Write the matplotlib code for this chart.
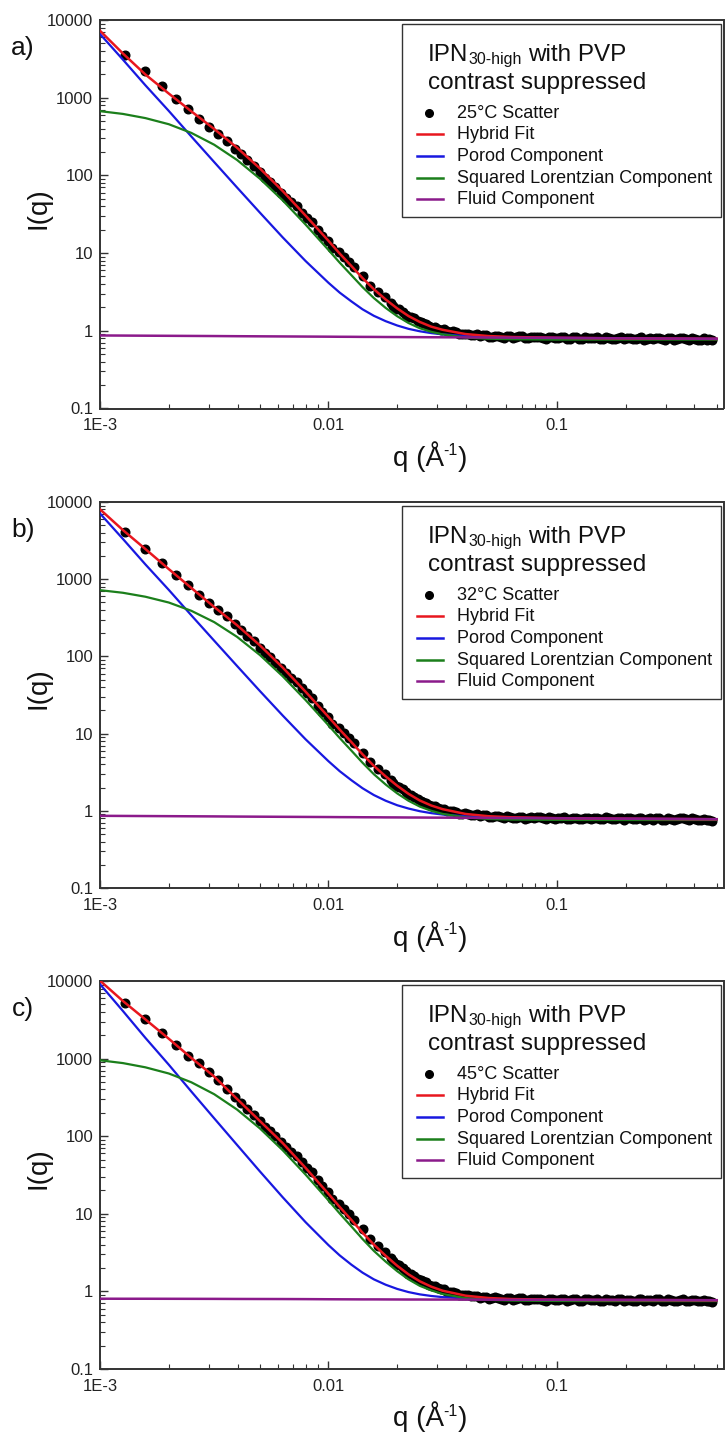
import matplotlib
matplotlib.use("Agg")
import matplotlib.pyplot as plt
from matplotlib.patches import Rectangle
from matplotlib.lines import Line2D
from matplotlib.ticker import FixedLocator, FixedFormatter, LogLocator, NullFormatter

plt.rcParams['font.family'] = ['Liberation Sans', 'DejaVu Sans']

W, H = 725, 1433

# ---------------- data ----------------
# q grid of the fitted model curves (1/Angstrom)
q_fit = [0.001, 0.00126, 0.00158, 0.002, 0.00251, 0.00316, 0.00398, 0.00501, 0.00631, 0.00794,
         0.01, 0.0112, 0.0126, 0.0141, 0.0158, 0.0178, 0.02, 0.0224, 0.0251, 0.0282,
         0.0316, 0.0398, 0.0501, 0.0631, 0.1, 0.158, 0.251, 0.398, 0.5]

# measured q values (shared by the three temperatures)
q_data = [0.00129, 0.00158, 0.00186, 0.00215, 0.00243, 0.00272, 0.00300, 0.00329, 0.00358, 0.00389,
          0.00416, 0.00442, 0.00471, 0.00500, 0.00529, 0.00557, 0.00585, 0.00617, 0.00654, 0.00687,
          0.00730, 0.00768, 0.00804, 0.00849, 0.00898, 0.00939, 0.00993, 0.0104, 0.0111, 0.0117,
          0.0123, 0.0130, 0.0141, 0.0152, 0.0164, 0.0176,
          0.0187, 0.0198, 0.0211, 0.0224, 0.0238, 0.0253, 0.0268, 0.0285, 0.0303, 0.0321,
          0.0341, 0.0363, 0.0385, 0.0409, 0.0434, 0.0461, 0.0490, 0.0520, 0.0553, 0.0587,
          0.0623, 0.0662, 0.0703, 0.0747, 0.0793, 0.0842, 0.0895, 0.0950, 0.1009, 0.1072,
          0.1138, 0.1209, 0.1284, 0.1364, 0.1448, 0.1538, 0.1634, 0.1735, 0.1843, 0.1957,
          0.2079, 0.2208, 0.2345, 0.2490, 0.2645, 0.2809, 0.2983, 0.3168, 0.3365, 0.3574,
          0.3796, 0.4031, 0.4281, 0.4547, 0.4750]
# second detector frame, interleaved with the high-q part
q_data2 = [0.01924, 0.02044, 0.02174, 0.02309, 0.02454, 0.02604, 0.02764, 0.02939, 0.03119, 0.03308,
           0.03518, 0.03738, 0.03968, 0.04213, 0.04473, 0.04753, 0.05048, 0.05363, 0.05697, 0.06047,
           0.06422, 0.06822, 0.07247, 0.07697, 0.08172, 0.08681, 0.09221, 0.09790, 0.1040, 0.1105,
           0.1173, 0.1246, 0.1323, 0.1405, 0.1492, 0.1585, 0.1684, 0.1788, 0.1899, 0.2017,
           0.2143, 0.2276, 0.2416, 0.2566, 0.2726, 0.2895, 0.3074, 0.3265, 0.3468, 0.3683,
           0.3912, 0.4154, 0.4412, 0.4647]

# 25 C
I_25 = [3558, 2174, 1396, 971, 716, 538, 421, 338, 279, 220,
        186, 157, 132, 110, 93.4, 82.1, 70.8, 60.0, 51.8, 45.5,
        40.4, 33.3, 28.7, 25.2, 19.9, 16.7, 14.4, 11.8, 10.2, 8.81,
        7.60, 6.56, 5.03, 3.81, 3.13, 2.70,
        2.30, 1.93, 1.76, 1.50, 1.45, 1.28, 1.22, 1.10, 1.07, 1.05,
        0.968, 0.965, 0.897, 0.920, 0.889, 0.858, 0.887, 0.843, 0.853, 0.814,
        0.851, 0.822, 0.852, 0.809, 0.822, 0.836, 0.793, 0.824, 0.805, 0.836,
        0.794, 0.825, 0.784, 0.814, 0.805, 0.788, 0.827, 0.793, 0.816, 0.775,
        0.806, 0.781, 0.820, 0.795, 0.778, 0.809, 0.768, 0.799, 0.782, 0.813,
        0.772, 0.795, 0.762, 0.769, 0.753]
I2_25 = [2.08, 1.89, 1.61, 1.51, 1.34, 1.26, 1.14, 1.13, 1.03, 0.984,
         0.990, 0.912, 0.922, 0.886, 0.900, 0.877, 0.830, 0.865, 0.825, 0.861,
         0.815, 0.845, 0.801, 0.831, 0.837, 0.811, 0.842, 0.798, 0.820, 0.787,
         0.825, 0.784, 0.823, 0.797, 0.820, 0.779, 0.810, 0.784, 0.823, 0.806,
         0.781, 0.812, 0.771, 0.802, 0.817, 0.776, 0.807, 0.766, 0.805, 0.780,
         0.803, 0.762, 0.801, 0.776]
hybrid_25 = [7271, 3705, 1990, 1131, 668, 396, 227, 123, 62.8, 30.4,
             14.4, 9.86, 6.82, 4.77, 3.43, 2.53, 1.94, 1.55, 1.30, 1.13,
             1.03, 0.908, 0.856, 0.832, 0.813, 0.803, 0.797, 0.791, 0.788]
porod_25 = [6601, 3088, 1445, 676, 317, 148.6, 69.9, 33.2, 15.9, 7.91,
            4.15, 3.10, 2.39, 1.89, 1.56, 1.33, 1.17, 1.06, 0.986, 0.934,
            0.899, 0.857, 0.835, 0.824, 0.812, 0.803, 0.797, 0.791, 0.788]
lorentz_25 = [671.1, 618.3, 546.4, 455.8, 352.4, 248.3, 158.0, 90.7, 47.6, 23.3,
              10.98, 7.53, 5.20, 3.65, 2.64, 1.97, 1.54, 1.26, 1.08, 0.97,
              0.90, 0.82, 0.79, 0.78, 0.77, 0.77, 0.77, 0.77, 0.77]
fluid_25 = [0.871, 0.868, 0.865, 0.862, 0.859, 0.856, 0.852, 0.849, 0.846, 0.843,
            0.840, 0.838, 0.837, 0.835, 0.834, 0.832, 0.831, 0.829, 0.828, 0.826,
            0.825, 0.822, 0.819, 0.816, 0.810, 0.803, 0.797, 0.791, 0.788]

# 32 C
I_32 = [4120, 2460, 1607, 1133, 841, 631, 496, 396, 329, 260,
        219, 185, 156, 129, 110, 96.8, 82.8, 70.3, 60.8, 53.0,
        47.2, 38.9, 33.2, 29.2, 23.0, 19.1, 16.4, 13.5, 11.7, 10.05,
        8.66, 7.45, 5.68, 4.27, 3.47, 2.97,
        2.52, 2.11, 1.90, 1.61, 1.53, 1.35, 1.28, 1.14, 1.09, 1.07,
        0.980, 0.974, 0.901, 0.921, 0.887, 0.854, 0.881, 0.839, 0.848, 0.807,
        0.840, 0.812, 0.842, 0.799, 0.812, 0.826, 0.784, 0.814, 0.795, 0.826,
        0.785, 0.816, 0.775, 0.806, 0.797, 0.780, 0.819, 0.786, 0.809, 0.768,
        0.799, 0.774, 0.813, 0.788, 0.771, 0.802, 0.761, 0.792, 0.775, 0.805,
        0.765, 0.788, 0.756, 0.762, 0.746]
I2_32 = [2.29, 2.05, 1.73, 1.60, 1.41, 1.31, 1.18, 1.15, 1.05, 1.00,
         1.00, 0.918, 0.925, 0.886, 0.897, 0.872, 0.825, 0.860, 0.819, 0.853,
         0.806, 0.834, 0.792, 0.821, 0.827, 0.801, 0.831, 0.788, 0.811, 0.777,
         0.817, 0.776, 0.814, 0.790, 0.812, 0.772, 0.802, 0.778, 0.816, 0.799,
         0.775, 0.805, 0.765, 0.795, 0.810, 0.770, 0.800, 0.760, 0.798, 0.774,
         0.796, 0.756, 0.794, 0.770]
hybrid_32 = [8040, 4325, 2460, 1352, 771, 437, 253.6, 139.0, 71.53, 34.88,
             16.45, 11.27, 7.76, 5.39, 3.82, 2.79, 2.11, 1.66, 1.36, 1.17,
             1.05, 0.910, 0.851, 0.824, 0.803, 0.793, 0.787, 0.781, 0.778]
porod_32 = [7101, 3322, 1555, 727.5, 340.8, 159.9, 75.19, 35.62, 17.11, 8.44,
            4.39, 3.26, 2.49, 1.96, 1.60, 1.35, 1.18, 1.07, 0.988, 0.932,
            0.894, 0.849, 0.826, 0.814, 0.802, 0.793, 0.787, 0.781, 0.778]
lorentz_32 = [721.0, 666.9, 592.9, 498.8, 389.7, 278.2, 179.2, 104.2, 55.18, 27.20,
              12.82, 8.77, 6.02, 4.19, 2.98, 2.19, 1.68, 1.35, 1.135, 1.00,
              0.912, 0.821, 0.785, 0.770, 0.762, 0.76, 0.76, 0.76, 0.76]
fluid_32 = [0.861, 0.858, 0.855, 0.852, 0.849, 0.846, 0.842, 0.839, 0.836, 0.833,
            0.830, 0.828, 0.827, 0.825, 0.824, 0.822, 0.821, 0.819, 0.818, 0.816,
            0.815, 0.812, 0.809, 0.806, 0.800, 0.793, 0.787, 0.781, 0.778]

# 45 C
I_45 = [5250, 3208, 2156, 1497, 1091, 871, 679, 531, 411, 321,
        271, 226, 190, 157, 133, 117, 99.7, 84.4, 72.7, 63.2,
        56.0, 46.1, 39.3, 34.3, 27.0, 22.6, 19.2, 15.7, 13.5, 11.5,
        9.83, 8.42, 6.38, 4.75, 3.84, 3.26,
        2.72, 2.25, 2.01, 1.69, 1.60, 1.39, 1.31, 1.16, 1.10, 1.07,
        0.975, 0.963, 0.889, 0.904, 0.869, 0.834, 0.859, 0.816, 0.824, 0.785,
        0.818, 0.790, 0.819, 0.776, 0.790, 0.804, 0.762, 0.792, 0.774, 0.804,
        0.764, 0.796, 0.756, 0.787, 0.778, 0.762, 0.800, 0.769, 0.792, 0.753,
        0.783, 0.760, 0.797, 0.774, 0.758, 0.788, 0.749, 0.780, 0.763, 0.794,
        0.755, 0.778, 0.746, 0.754, 0.737]
I2_45 = [2.46, 2.18, 1.82, 1.67, 1.46, 1.35, 1.21, 1.17, 1.06, 0.997,
         0.993, 0.906, 0.910, 0.868, 0.877, 0.850, 0.804, 0.836, 0.796, 0.829,
         0.784, 0.812, 0.769, 0.799, 0.805, 0.779, 0.809, 0.767, 0.789, 0.757,
         0.796, 0.756, 0.795, 0.771, 0.794, 0.754, 0.785, 0.761, 0.799, 0.783,
         0.760, 0.790, 0.751, 0.781, 0.796, 0.757, 0.787, 0.748, 0.786, 0.763,
         0.785, 0.746, 0.784, 0.761]
hybrid_45 = [10100, 5520, 3200, 1803, 1020, 588, 302, 157, 81.35, 39.05,
             18.09, 12.26, 8.33, 5.72, 4.01, 2.88, 2.14, 1.66, 1.35, 1.15,
             1.02, 0.881, 0.822, 0.797, 0.781, 0.776, 0.774, 0.771, 0.770]
porod_45 = [9101, 4103, 1850, 834.5, 376.6, 170.2, 77.2, 35.2, 16.3, 7.80,
            3.95, 2.91, 2.21, 1.744, 1.430, 1.219, 1.076, 0.980, 0.916, 0.873,
            0.844, 0.811, 0.794, 0.785, 0.780, 0.776, 0.774, 0.771, 0.770]
lorentz_45 = [950.9, 875.0, 772.0, 642.8, 495.3, 347.9, 220.5, 126.1, 65.80, 32.00,
              14.89, 10.10, 6.87, 4.73, 3.33, 2.42, 1.82, 1.43, 1.18, 1.03,
              0.925, 0.820, 0.778, 0.761, 0.752, 0.75, 0.75, 0.75, 0.75]
fluid_45 = [0.805, 0.804, 0.804, 0.803, 0.802, 0.801, 0.799, 0.798, 0.797, 0.795,
            0.792, 0.791, 0.790, 0.789, 0.789, 0.788, 0.787, 0.786, 0.786, 0.785,
            0.785, 0.784, 0.782, 0.780, 0.779, 0.776, 0.774, 0.771, 0.770]

panel_tags = ['a)', 'b)', 'c)']
temperatures = ['25°C', '32°C', '45°C']
series_names = ['Hybrid Fit', 'Porod Component', 'Squared Lorentzian Component', 'Fluid Component']
x_ticks = [1e-3, 1e-2, 1e-1]
x_ticklabels = ['1E-3', '0.01', '0.1']
y_ticks = [0.1, 1, 10, 100, 1000, 10000]
y_ticklabels = ['0.1', '1', '10', '100', '1000', '10000']

scatter_sets = [(I_25, I2_25), (I_32, I2_32), (I_45, I2_45)]
fit_sets = [(hybrid_25, porod_25, lorentz_25, fluid_25),
            (hybrid_32, porod_32, lorentz_32, fluid_32),
            (hybrid_45, porod_45, lorentz_45, fluid_45)]

# ---------------- styling ----------------
RED, BLUE, GREEN, PURPLE = '#e8161e', '#1818e0', '#1b7f1b', '#8b1a8b'
line_colors = [RED, BLUE, GREEN, PURPLE]
SPINE = '#333333'

# axes frames in pixels: left, top, right, bottom
frames = [(100, 20, 723.5, 408.5), (100, 502, 723.5, 888), (100, 981, 723.5, 1369)]

fig = plt.figure(figsize=(W / 100, H / 100), dpi=100)
fig.patch.set_facecolor('white')
renderer = fig.canvas.get_renderer()


def fpos(x, y):
    return x / W, 1 - y / H


def put(x, y, s, size, **kw):
    fx, fy = fpos(x, y)
    return fig.text(fx, fy, s, fontsize=size, **kw)


def width_px(t):
    return t.get_window_extent(renderer).width


for k, (l, t, r, b) in enumerate(frames):
    ax = fig.add_axes([l / W, 1 - b / H, (r - l) / W, (b - t) / H])
    ax.set_xscale('log')
    ax.set_yscale('log')

    hyb, por, lor, flu = fit_sets[k]
    I_main, I_second = scatter_sets[k]
    ax.plot(q_data, I_main, 'o', ms=6.2, color='black', mec='black', zorder=2)
    ax.plot(q_data2, I_second, 'o', ms=6.2, color='black', mec='black', zorder=2)
    ax.plot(q_fit, por, color=BLUE, lw=1.6, zorder=3)
    ax.plot(q_fit, lor, color=GREEN, lw=1.6, zorder=3)
    ax.plot(q_fit, hyb, color=RED, lw=1.8, zorder=4)
    ax.plot(q_fit, flu, color=PURPLE, lw=1.8, zorder=5)

    ax.set_xlim(1e-3, 0.536)
    ax.set_ylim(0.1, 1e4)

    ax.xaxis.set_major_locator(FixedLocator(x_ticks))
    ax.xaxis.set_major_formatter(FixedFormatter(x_ticklabels))
    ax.xaxis.set_minor_locator(LogLocator(base=10, subs=range(2, 10), numticks=20))
    ax.xaxis.set_minor_formatter(NullFormatter())
    ax.yaxis.set_major_locator(FixedLocator(y_ticks))
    ax.yaxis.set_major_formatter(FixedFormatter(y_ticklabels))
    ax.yaxis.set_minor_locator(LogLocator(base=10, subs=range(2, 10), numticks=20))
    ax.yaxis.set_minor_formatter(NullFormatter())

    ax.tick_params(which='major', direction='in', length=6, width=1.0, color=SPINE,
                   labelsize=12, labelcolor='#222222', top=False, right=False)
    ax.tick_params(axis='x', which='major', pad=7)
    ax.tick_params(axis='y', which='major', pad=5)
    ax.tick_params(which='minor', direction='in', length=3.5, width=0.8, color=SPINE,
                   top=False, right=False)
    for sp in ax.spines.values():
        sp.set_linewidth(1.4)
        sp.set_color(SPINE)

    # panel tag and axis titles
    put(23, t + 28, panel_tags[k], 19, ha='center', va='center', color='#111111')
    put(39, (t + b) / 2 - 6.5, 'I(q)', 20, rotation=90, ha='center', va='center', color='#111111')

    # x label q (Å^-1) with a small raised "-1"
    base = b + 57.5
    p1 = put(0, base, 'q (Å', 20, va='baseline', color='#111111')
    p2 = put(0, base - 11, '-1', 11.5, va='baseline', color='#111111')
    p3 = put(0, base, ')', 20, va='baseline', color='#111111')
    w1, w2, w3 = width_px(p1), width_px(p2), width_px(p3)
    x0 = 430 - (w1 + w2 + w3) / 2
    p1.set_position(fpos(x0, base))
    p2.set_position(fpos(x0 + w1, base - 11))
    p3.set_position(fpos(x0 + w1 + w2, base))

    # legend box
    bx0, by0, bx1, by1 = l + 302, t + 4, l + 621, t + 197
    fx0, fy1 = fpos(bx0, by1)
    fx1, fy0 = fpos(bx1, by0)
    fig.patches.append(Rectangle((fx0, fy1), fx1 - fx0, fy0 - fy1, transform=fig.transFigure,
                                 facecolor='white', edgecolor=SPINE, lw=1.0, zorder=6))

    # legend title with subscript
    tx, tb = l + 328, t + 41
    s1 = put(tx, tb, 'IPN', 17.5, va='baseline', color='#111111', zorder=7)
    ws1 = width_px(s1)
    s2 = put(tx + ws1 + 0.5, tb + 3, '30-high', 11.5, va='baseline', color='#111111', zorder=7)
    ws2 = width_px(s2)
    put(tx + ws1 + ws2 + 6, tb, 'with PVP', 17.5, va='baseline', color='#111111', zorder=7)
    put(tx, t + 69.3, 'contrast suppressed', 17.5, va='baseline', color='#111111', zorder=7)

    # legend entries
    entry_base = [t + 98.3, t + 119.3, t + 141.0, t + 162.7, t + 184.3]
    labels = [temperatures[k] + ' Scatter'] + series_names
    for i, (yb, lab) in enumerate(zip(entry_base, labels)):
        put(l + 357, yb, lab, 13, va='baseline', color='#111111', zorder=7)
        ymid = 1 - (yb - 5) / H
        if i == 0:
            fig.lines.append(Line2D([(l + 329) / W], [ymid], marker='o', ms=5.5, color='black',
                                    ls='none', transform=fig.transFigure, zorder=7))
        else:
            fig.lines.append(Line2D([(l + 317) / W, (l + 343) / W], [ymid, ymid],
                                    color=line_colors[i - 1], lw=1.8,
                                    transform=fig.transFigure, zorder=7))

fig.savefig('out.png', dpi=100, facecolor='white')
